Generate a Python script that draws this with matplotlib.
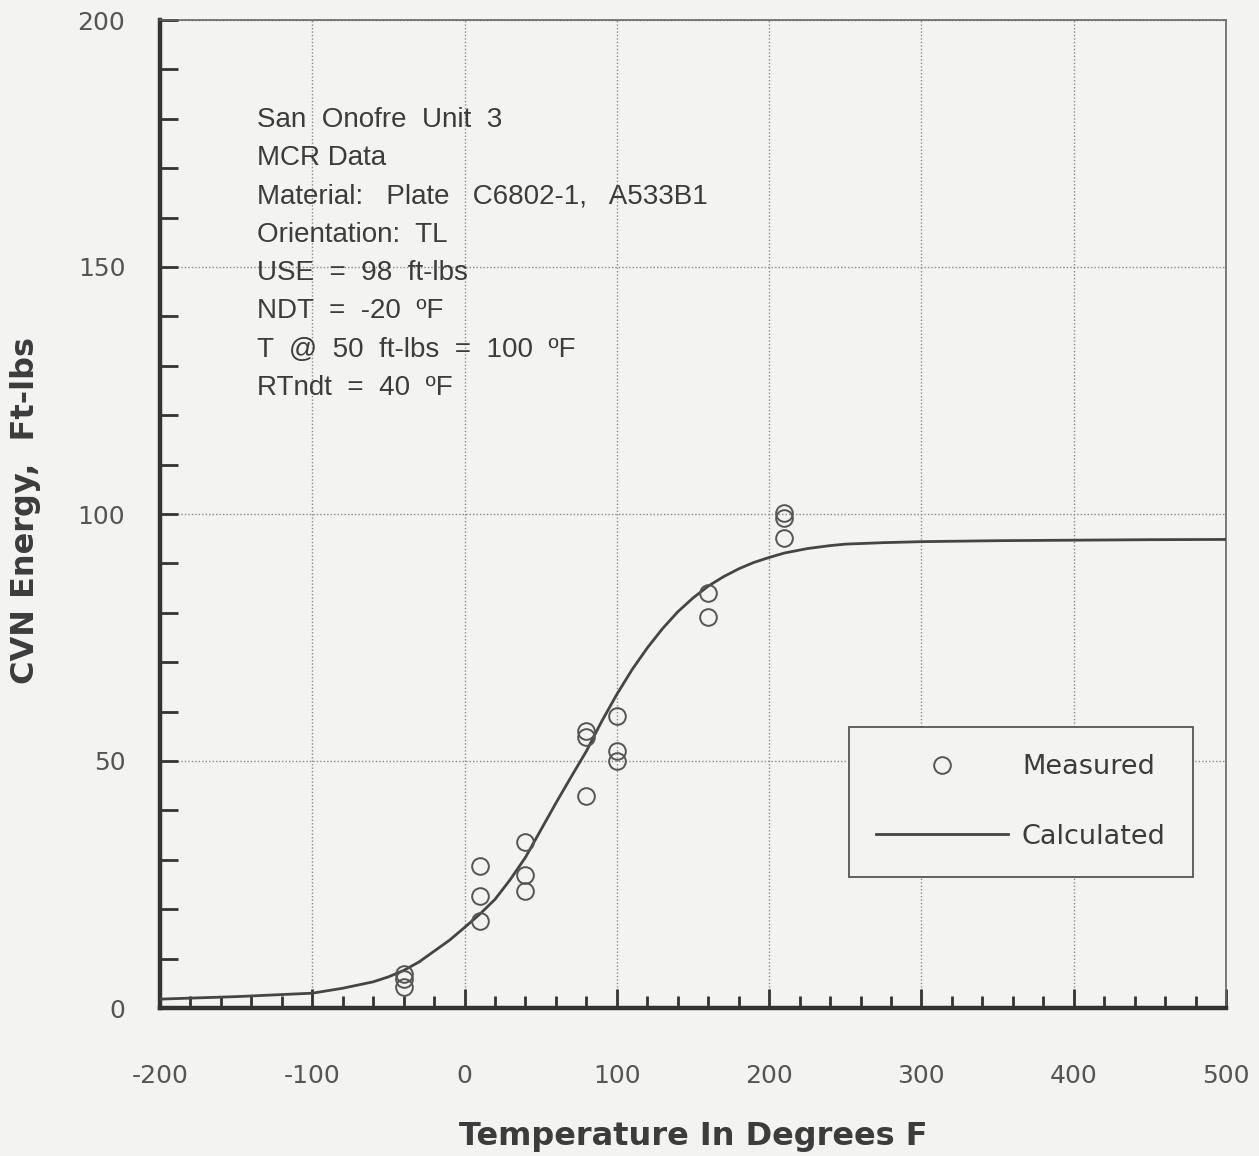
import matplotlib.pyplot as plt
from matplotlib.ticker import MultipleLocator

plt.rcParams['font.family'] = ['Liberation Sans', 'DejaVu Sans']
plt.rcParams['axes.unicode_minus'] = False

# -------- DATA --------
meas_t = [-40, -40, -40, 10, 10, 10, 40, 40, 40, 80, 80, 80, 100, 100, 100, 160, 160, 210, 210, 210]
meas_cvn = [6.8, 5.8, 4.3, 28.8, 22.6, 17.6, 33.7, 26.9, 23.6, 56.0, 54.8, 43.0,
            59.1, 52.0, 50.0, 84.0, 79.1, 100.2, 99.1, 95.1]

curve_t = [-200, -150, -100, -80, -60, -50, -40, -30, -20, -10, 0, 10, 20, 30, 40, 50,
           60, 70, 80, 90, 100, 110, 120, 130, 140, 150, 160, 170, 180, 190, 200,
           210, 225, 240, 250, 275, 300, 350, 400, 450, 500]
curve_cvn = [1.8, 2.3, 3.0, 4.0, 5.3, 6.3, 7.6, 9.3, 11.5, 13.7, 16.3, 19.0, 22.0, 26.0,
             30.5, 36.0, 41.5, 46.8, 52.0, 58.0, 63.5, 68.5, 72.9, 76.8, 80.2, 83.0,
             85.4, 87.3, 88.9, 90.2, 91.2, 92.1, 93.0, 93.6, 93.9, 94.2, 94.4, 94.6,
             94.7, 94.8, 94.85]

notes = ["San  Onofre  Unit  3",
         "MCR Data",
         "Material:   Plate   C6802-1,   A533B1",
         "Orientation:  TL",
         "USE  =  98  ft-lbs",
         "NDT  =  -20  \u00baF",
         "T  @  50  ft-lbs  =  100  \u00baF",
         "RTndt  =  40  \u00baF"]

bg = '#f3f3f1'
ink = '#3c3c3c'

# -------- PLOT --------
fig = plt.figure(figsize=(12.59, 11.56), dpi=100, facecolor=bg)
ax = fig.add_axes([160 / 1259, 1 - 1008 / 1156, 1066 / 1259, 988 / 1156])
ax.set_facecolor(bg)

ax.plot(curve_t, curve_cvn, color='#454545', lw=2.0, solid_joinstyle='round',
        label='Calculated', zorder=3)
ax.plot(meas_t, meas_cvn, ls='none', marker='o', ms=12, mfc='none', mec='#555555',
        mew=1.4, label='Measured', zorder=4)

ax.set_xlim(-200, 500)
ax.set_ylim(0, 200)
ax.xaxis.set_major_locator(MultipleLocator(100))
ax.xaxis.set_minor_locator(MultipleLocator(20))
ax.yaxis.set_major_locator(MultipleLocator(50))
ax.yaxis.set_minor_locator(MultipleLocator(10))

ax.grid(True, which='major', ls=(0, (1, 1.5)), color='#8a8a8a', lw=1.0)

ax.tick_params(axis='x', which='major', direction='in', length=14, width=2,
               color='#333333', pad=40, labelsize=18, labelcolor='#555555')
ax.tick_params(axis='x', which='minor', direction='in', length=9, width=2, color='#333333')
ax.tick_params(axis='y', which='both', direction='in', length=13, width=2,
               color='#333333', pad=25, labelsize=18, labelcolor='#555555')
ax.tick_params(top=False, right=False)
for lab in ax.get_xticklabels() + ax.get_yticklabels():
    lab.set_family('DejaVu Sans')

for side in ['left', 'bottom']:
    ax.spines[side].set_linewidth(3.2)
    ax.spines[side].set_color('#333333')
for side in ['top', 'right']:
    ax.spines[side].set_linewidth(1.2)
    ax.spines[side].set_color('#666666')

fig.text(693 / 1259, 1 - 1136 / 1156, 'Temperature In Degrees F', fontsize=23,
         fontweight='bold', color=ink, family='DejaVu Sans', ha='center', va='center')
fig.text(26 / 1259, 1 - 510 / 1156, 'CVN Energy,  Ft-lbs', fontsize=23, rotation=90,
         fontweight='bold', color=ink, family='DejaVu Sans', ha='center', va='center')

for i, line in enumerate(notes):
    ax.text(0.091, 0.899 - i * 0.0388, line, transform=ax.transAxes, fontsize=20,
            color=ink, va='center', ha='left')

h, l = ax.get_legend_handles_labels()
leg = ax.legend(h[::-1], l[::-1], loc='upper left', bbox_to_anchor=(0.646, 0.284),
                frameon=True, fancybox=False, edgecolor='#555555', facecolor=bg,
                fontsize=19.5, handlelength=4.9, handletextpad=0.5, labelspacing=1.6,
                borderpad=1.0, borderaxespad=0, framealpha=1)
leg.get_frame().set_linewidth(1.3)
for t in leg.get_texts():
    t.set_color(ink)
    t.set_family('DejaVu Sans')

fig.savefig('out.png', dpi=100, facecolor=bg)
